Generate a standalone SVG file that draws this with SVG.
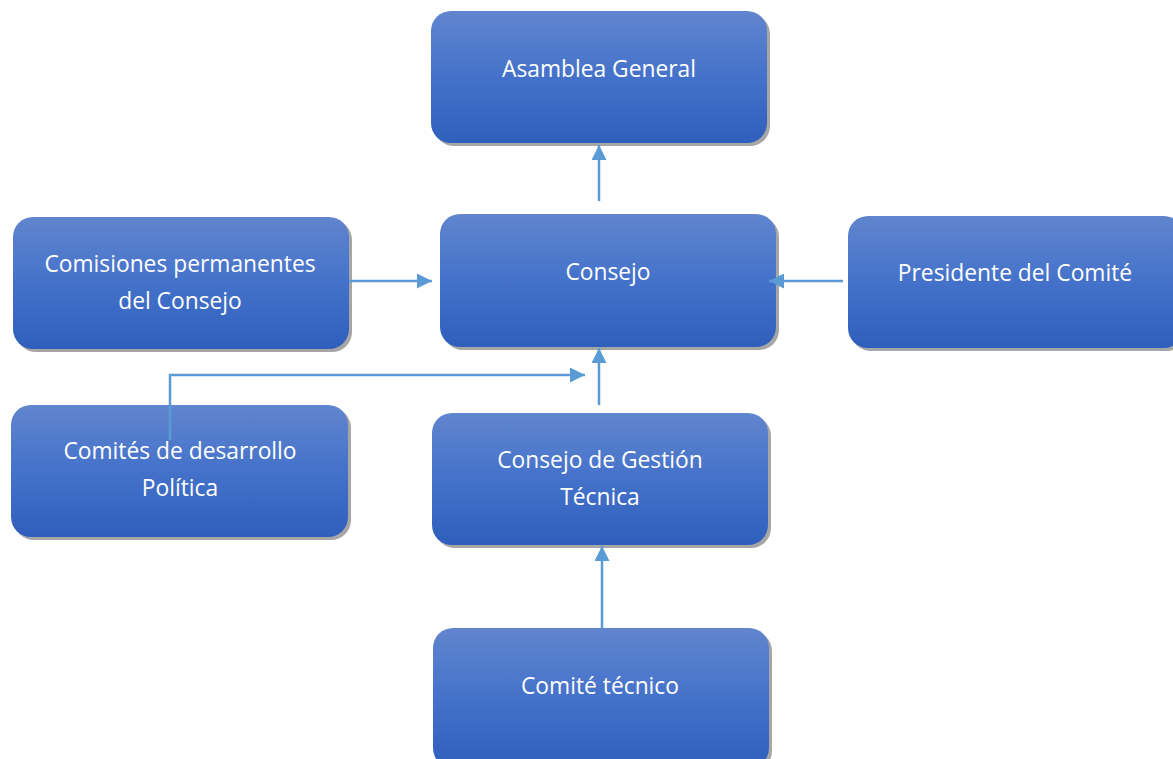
<svg xmlns="http://www.w3.org/2000/svg" width="1173" height="759" viewBox="0 0 1173 759">
  <defs>
    <linearGradient id="boxFill" x1="0" y1="0" x2="0" y2="1">
      <stop offset="0" stop-color="#6185CE"/>
      <stop offset="0.5" stop-color="#4472CA"/>
      <stop offset="1" stop-color="#2F5FBC"/>
    </linearGradient>
    <marker id="arrow" viewBox="0 0 10 10" refX="10" refY="5" markerWidth="6" markerHeight="6" markerUnits="strokeWidth" orient="auto">
      <path d="M0,0 L10,5 L0,10 Z" fill="#5B9BD5"/>
    </marker>
  </defs>
  <style>
    .shadow { fill: #A6A6A6; }
    .box { fill: url(#boxFill); }
    .label { font-family: "Open Sans", "Liberation Sans", sans-serif; font-size: 22.8px; fill: #FFFFFF; text-anchor: middle; }
    .conn { fill: none; stroke: #5B9BD5; stroke-width: 2.5; marker-end: url(#arrow); }
  </style>
  <rect width="1173" height="759" fill="#FFFFFF"/>

  <g id="asamblea-general">
    <rect class="shadow" x="434" y="14" width="336" height="132" rx="20"/>
    <rect class="box" x="431" y="11" width="336" height="132" rx="20"/>
    <text class="label" x="599" y="77">Asamblea General</text>
  </g>

  <g id="consejo">
    <rect class="shadow" x="443" y="217" width="336" height="133" rx="20"/>
    <rect class="box" x="440" y="214" width="336" height="133" rx="20"/>
    <text class="label" x="608" y="280">Consejo</text>
  </g>

  <g id="comisiones-permanentes">
    <rect class="shadow" x="16" y="220" width="336" height="132" rx="20"/>
    <rect class="box" x="13" y="217" width="336" height="132" rx="20"/>
    <text class="label" x="180" y="272">Comisiones permanentes</text>
    <text class="label" x="180" y="309">del Consejo</text>
  </g>

  <g id="presidente-comite">
    <rect class="shadow" x="851" y="219" width="336" height="132" rx="20"/>
    <rect class="box" x="848" y="216" width="336" height="132" rx="20"/>
    <text class="label" x="1015" y="281">Presidente del Comité</text>
  </g>

  <g id="comites-desarrollo">
    <rect class="shadow" x="14" y="408" width="337" height="132" rx="20"/>
    <rect class="box" x="11" y="405" width="337" height="132" rx="20"/>
    <text class="label" x="180" y="459">Comités de desarrollo</text>
    <text class="label" x="180" y="496">Política</text>
  </g>

  <g id="consejo-gestion-tecnica">
    <rect class="shadow" x="435" y="416" width="336" height="132" rx="20"/>
    <rect class="box" x="432" y="413" width="336" height="132" rx="20"/>
    <text class="label" x="600" y="468">Consejo de Gestión</text>
    <text class="label" x="600" y="505">Técnica</text>
  </g>

  <g id="comite-tecnico">
    <rect class="shadow" x="436" y="631" width="336" height="140" rx="20"/>
    <rect class="box" x="433" y="628" width="336" height="140" rx="20"/>
    <text class="label" x="600" y="694">Comité técnico</text>
  </g>

  <g id="connectors">
    <path class="conn" d="M599,201 V145"/>
    <path class="conn" d="M349,281 H432"/>
    <path class="conn" d="M843,281 H769"/>
    <path class="conn" d="M170,440 V375 H585"/>
    <path class="conn" d="M599,405 V348"/>
    <path class="conn" d="M602,628 V546"/>
  </g>
</svg>
